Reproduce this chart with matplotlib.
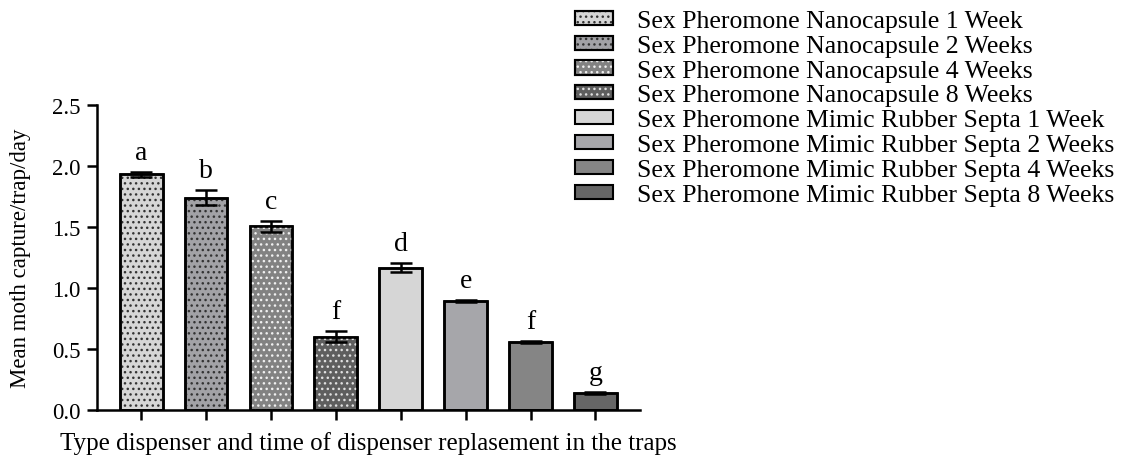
import matplotlib
matplotlib.use("Agg")
import matplotlib.pyplot as plt
from matplotlib.patches import Patch

plt.rcParams['font.family'] = ['Liberation Serif', 'DejaVu Serif']
plt.rcParams['hatch.linewidth'] = 1.0

# data
labels = ['Sex Pheromone Nanocapsule 1 Week',
          'Sex Pheromone Nanocapsule 2 Weeks',
          'Sex Pheromone Nanocapsule 4 Weeks',
          'Sex Pheromone Nanocapsule 8 Weeks',
          'Sex Pheromone Mimic Rubber Septa 1 Week',
          'Sex Pheromone Mimic Rubber Septa 2 Weeks',
          'Sex Pheromone Mimic Rubber Septa 4 Weeks',
          'Sex Pheromone Mimic Rubber Septa 8 Weeks']
means = [1.93, 1.74, 1.505, 0.60, 1.165, 0.89, 0.557, 0.138]
errors = [0.02, 0.062, 0.044, 0.044, 0.035, 0.008, 0.008, 0.01]
letters = ['a', 'b', 'c', 'f', 'd', 'e', 'f', 'g']

fill_colors = ['#d6d6d6', '#a2a2a6', '#828282', '#5e5e5e',
               '#d6d6d6', '#a6a6aa', '#858585', '#666666']
dot_colors = ['#333333', '#333333', '#f0f0f0', '#e0e0e0',
              None, None, None, None]

fig = plt.figure(figsize=(11.28, 4.56), dpi=100)
ax = fig.add_axes([0.086, 0.099, 0.481, 0.669])

x = list(range(len(means)))
width = 0.66
lw = 1.8

ax.bar(x, means, width=width, color=fill_colors, edgecolor='black',
       linewidth=lw, zorder=2)
for xi, m, dc in zip(x, means, dot_colors):
    if dc is not None:
        ax.bar(xi, m, width=width, color='none', edgecolor=dc,
               linewidth=0, hatch='...', zorder=3)
# redraw edges on top of the dots
ax.bar(x, means, width=width, color='none', edgecolor='black',
       linewidth=lw, zorder=4)

ax.errorbar(x, means, yerr=errors, fmt='none', ecolor='black',
            elinewidth=lw, capsize=8, capthick=lw, zorder=5)

for xi, m, e, let in zip(x, means, errors, letters):
    ax.annotate(let, (xi, m + e), xytext=(0, 5), textcoords='offset points',
                ha='center', va='bottom', fontsize=20)

ax.set_xlim(-0.68, 7.68)
ax.set_ylim(0, 2.5)
ax.set_yticks([0.0, 0.5, 1.0, 1.5, 2.0, 2.5])
ax.set_yticklabels(['0.0', '0.5', '1.0', '1.5', '2.0', '2.5'])
ax.set_xticks(x)
ax.set_xticklabels([])
ax.tick_params(axis='both', length=7, width=lw, labelsize=16.5, pad=5)
for side in ['top', 'right']:
    ax.spines[side].set_visible(False)
for side in ['left', 'bottom']:
    ax.spines[side].set_linewidth(lw)

ax.set_ylabel('Mean moth capture/trap/day', fontsize=16.5)
ax.yaxis.set_label_coords(-0.122, 0.5)
ax.set_xlabel('Type dispenser and time of dispenser replasement in the traps',
              fontsize=18, labelpad=3)

handles = []
for fc, dc in zip(fill_colors, dot_colors):
    base = Patch(facecolor=fc, edgecolor='black', linewidth=1.5)
    if dc is not None:
        dots = Patch(facecolor='none', edgecolor=dc, linewidth=0, hatch='...')
        edge = Patch(facecolor='none', edgecolor='black', linewidth=1.5)
        handles.append((base, dots, edge))
    else:
        handles.append(base)

fig.legend(handles, labels, loc='upper left',
           bbox_to_anchor=(575 / 1128, 1 - 11 / 456), frameon=False,
           fontsize=18.5, handlelength=1.48, handleheight=0.47,
           handletextpad=0.93, labelspacing=0.11, borderpad=0, borderaxespad=0)

fig.savefig('out.png', dpi=100)
